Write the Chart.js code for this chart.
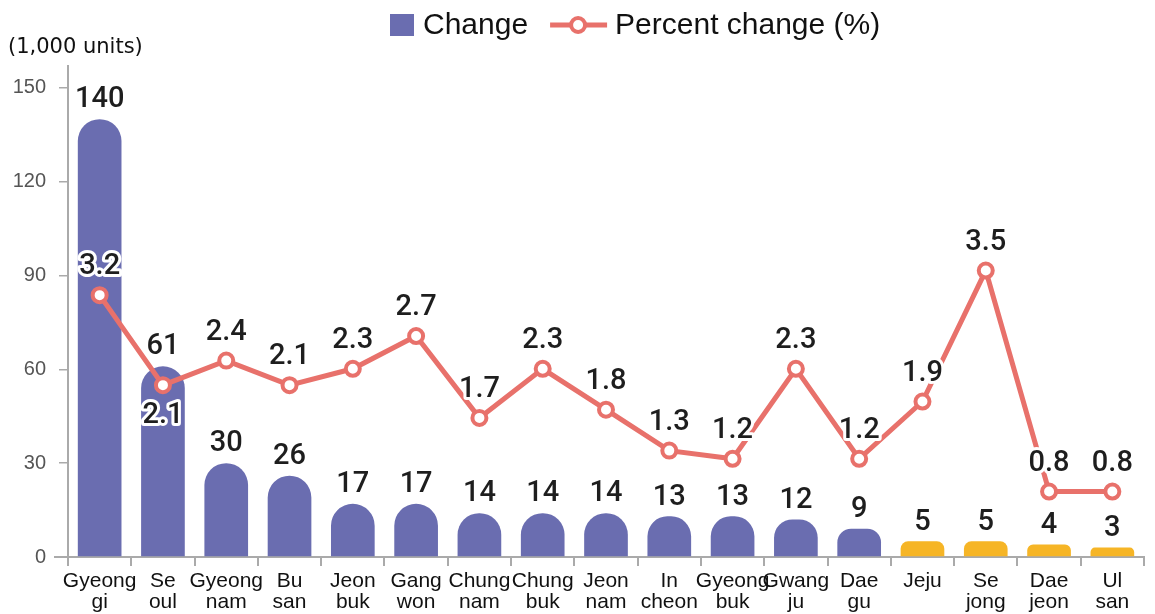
<!DOCTYPE html>
<html>
<head>
<meta charset="utf-8">
<script src="https://cdn.jsdelivr.net/npm/chart.js@4.4.1/dist/chart.umd.min.js"></script>
<style>
  html, body { margin: 0; padding: 0; background: #fff; }
  canvas { display: block; }
</style>
</head>
<body>
<canvas id="chart" width="1155" height="614"></canvas>
<script>
  const regions = [
    ['Gyeong', 'gi'], ['Se', 'oul'], ['Gyeong', 'nam'], ['Bu', 'san'], ['Jeon', 'buk'],
    ['Gang', 'won'], ['Chung', 'nam'], ['Chung', 'buk'], ['Jeon', 'nam'], ['In', 'cheon'],
    ['Gyeong', 'buk'], ['Gwang', 'ju'], ['Dae', 'gu'], ['Jeju'], ['Se', 'jong'],
    ['Dae', 'jeon'], ['Ul', 'san']
  ]
  const change = [140, 61, 30, 26, 17, 17, 14, 14, 14, 13, 13, 12, 9, 5, 5, 4, 3]
  const percentChange = [3.2, 2.1, 2.4, 2.1, 2.3, 2.7, 1.7, 2.3, 1.8, 1.3, 1.2, 2.3, 1.2, 1.9, 3.5, 0.8, 0.8]
  const yTicks = [0, 30, 60, 90, 120, 150]

  const purple = '#6a6db0'
  const yellow = '#f6b526'
  const red = '#e8716b'
  const axisGray = '#aaaaaa'
  const valueFont = '500 29px Roboto, "DejaVu Sans", sans-serif'
  const textFamily = '"Liberation Sans", Arial, sans-serif'

  // regions from Jeju onward are drawn in yellow
  const firstYellow = 13
  // percent labels that sit under their point
  const labelBelow = [1]

  const labelsPlugin = {
    id: 'valueLabels',
    afterDatasetsDraw(chart) {
      const ctx = chart.ctx
      const bars = chart.getDatasetMeta(0).data
      const points = chart.getDatasetMeta(1).data
      ctx.save()
      ctx.font = valueFont
      ctx.textAlign = 'center'
      ctx.textBaseline = 'middle'
      ctx.fillStyle = '#1e1e1e'
      bars.forEach((bar, i) => {
        ctx.fillText(String(change[i]), bar.x, bar.y - 19)
      })
      ctx.lineJoin = 'round'
      ctx.lineWidth = 6
      ctx.strokeStyle = '#ffffff'
      points.forEach((pt, i) => {
        const y = labelBelow.includes(i) ? pt.y + 31 : pt.y - 28
        const txt = percentChange[i].toFixed(1)
        ctx.strokeText(txt, pt.x, y)
        ctx.fillText(txt, pt.x, y)
      })
      ctx.restore()
    },
    afterDraw(chart) {
      const ctx = chart.ctx
      const area = chart.chartArea
      ctx.save()
      // x axis line runs a little past the y axis
      ctx.strokeStyle = axisGray
      ctx.lineWidth = 2
      ctx.beginPath()
      ctx.moveTo(54, area.bottom)
      ctx.lineTo(area.left, area.bottom)
      ctx.stroke()

      // unit label
      ctx.fillStyle = '#111'
      ctx.font = '21px "DejaVu Sans", sans-serif'
      ctx.textBaseline = 'middle'
      ctx.textAlign = 'left'
      ctx.fillText('(1,000 units)', 8, 48)

      // legend
      const ly = 25
      let x = 390
      ctx.fillStyle = purple
      ctx.fillRect(x, ly - 11, 24, 22)
      x += 33
      ctx.fillStyle = '#111'
      ctx.font = '30px ' + textFamily
      ctx.fillText('Change', x, ly + 1)
      x += ctx.measureText('Change').width + 22
      ctx.strokeStyle = red
      ctx.lineWidth = 5
      ctx.beginPath()
      ctx.moveTo(x, ly)
      ctx.lineTo(x + 57, ly)
      ctx.stroke()
      ctx.beginPath()
      ctx.arc(x + 28, ly, 7, 0, Math.PI * 2)
      ctx.fillStyle = '#fff'
      ctx.fill()
      ctx.lineWidth = 4
      ctx.stroke()
      x += 65
      ctx.fillStyle = '#111'
      ctx.fillText('Percent change (%)', x, ly + 1)
      ctx.restore()
    }
  }

  new Chart(document.getElementById('chart'), {
    type: 'bar',
    data: {
      labels: regions,
      datasets: [
        {
          type: 'bar',
          label: 'Change',
          data: change,
          yAxisID: 'y',
          order: 1,
          backgroundColor: (c) => (c.dataIndex >= firstYellow ? yellow : purple),
          borderRadius: { topLeft: 30, topRight: 30 },
          borderSkipped: 'bottom',
          barPercentage: 0.69,
          categoryPercentage: 1
        },
        {
          type: 'line',
          label: 'Percent change (%)',
          data: percentChange,
          yAxisID: 'y2',
          order: 0,
          borderColor: red,
          borderWidth: 5,
          pointRadius: 7,
          pointBorderWidth: 4,
          pointBackgroundColor: '#ffffff',
          pointBorderColor: red,
          tension: 0
        }
      ]
    },
    options: {
      responsive: false,
      animation: false,
      layout: {
        padding: { top: 66, right: 0, bottom: 0, left: 0 }
      },
      scales: {
        x: {
          afterFit: (scale) => {
            scale.height = 57
          },
          grid: {
            offset: true,
            drawOnChartArea: false,
            tickLength: 9,
            color: axisGray,
            lineWidth: 2
          },
          border: { color: axisGray, width: 2 },
          ticks: {
            color: '#111',
            padding: 5,
            maxRotation: 0,
            minRotation: 0,
            autoSkip: false,
            font: { family: textFamily, size: 21, lineHeight: 1.0 }
          }
        },
        y: {
          min: 0,
          max: 157,
          afterBuildTicks: (scale) => {
            scale.ticks = yTicks.map((v) => ({ value: v }))
          },
          afterFit: (scale) => {
            scale.width = 68
          },
          grid: {
            drawOnChartArea: false,
            tickLength: 9,
            color: axisGray,
            lineWidth: 1.5
          },
          border: { color: axisGray, width: 2 },
          ticks: {
            color: '#555',
            padding: 13,
            font: { family: textFamily, size: 20 }
          }
        },
        y2: {
          display: false,
          min: 0,
          max: 6
        }
      },
      plugins: {
        legend: { display: false },
        tooltip: { enabled: false }
      }
    },
    plugins: [labelsPlugin]
  })
</script>
</body>
</html>
